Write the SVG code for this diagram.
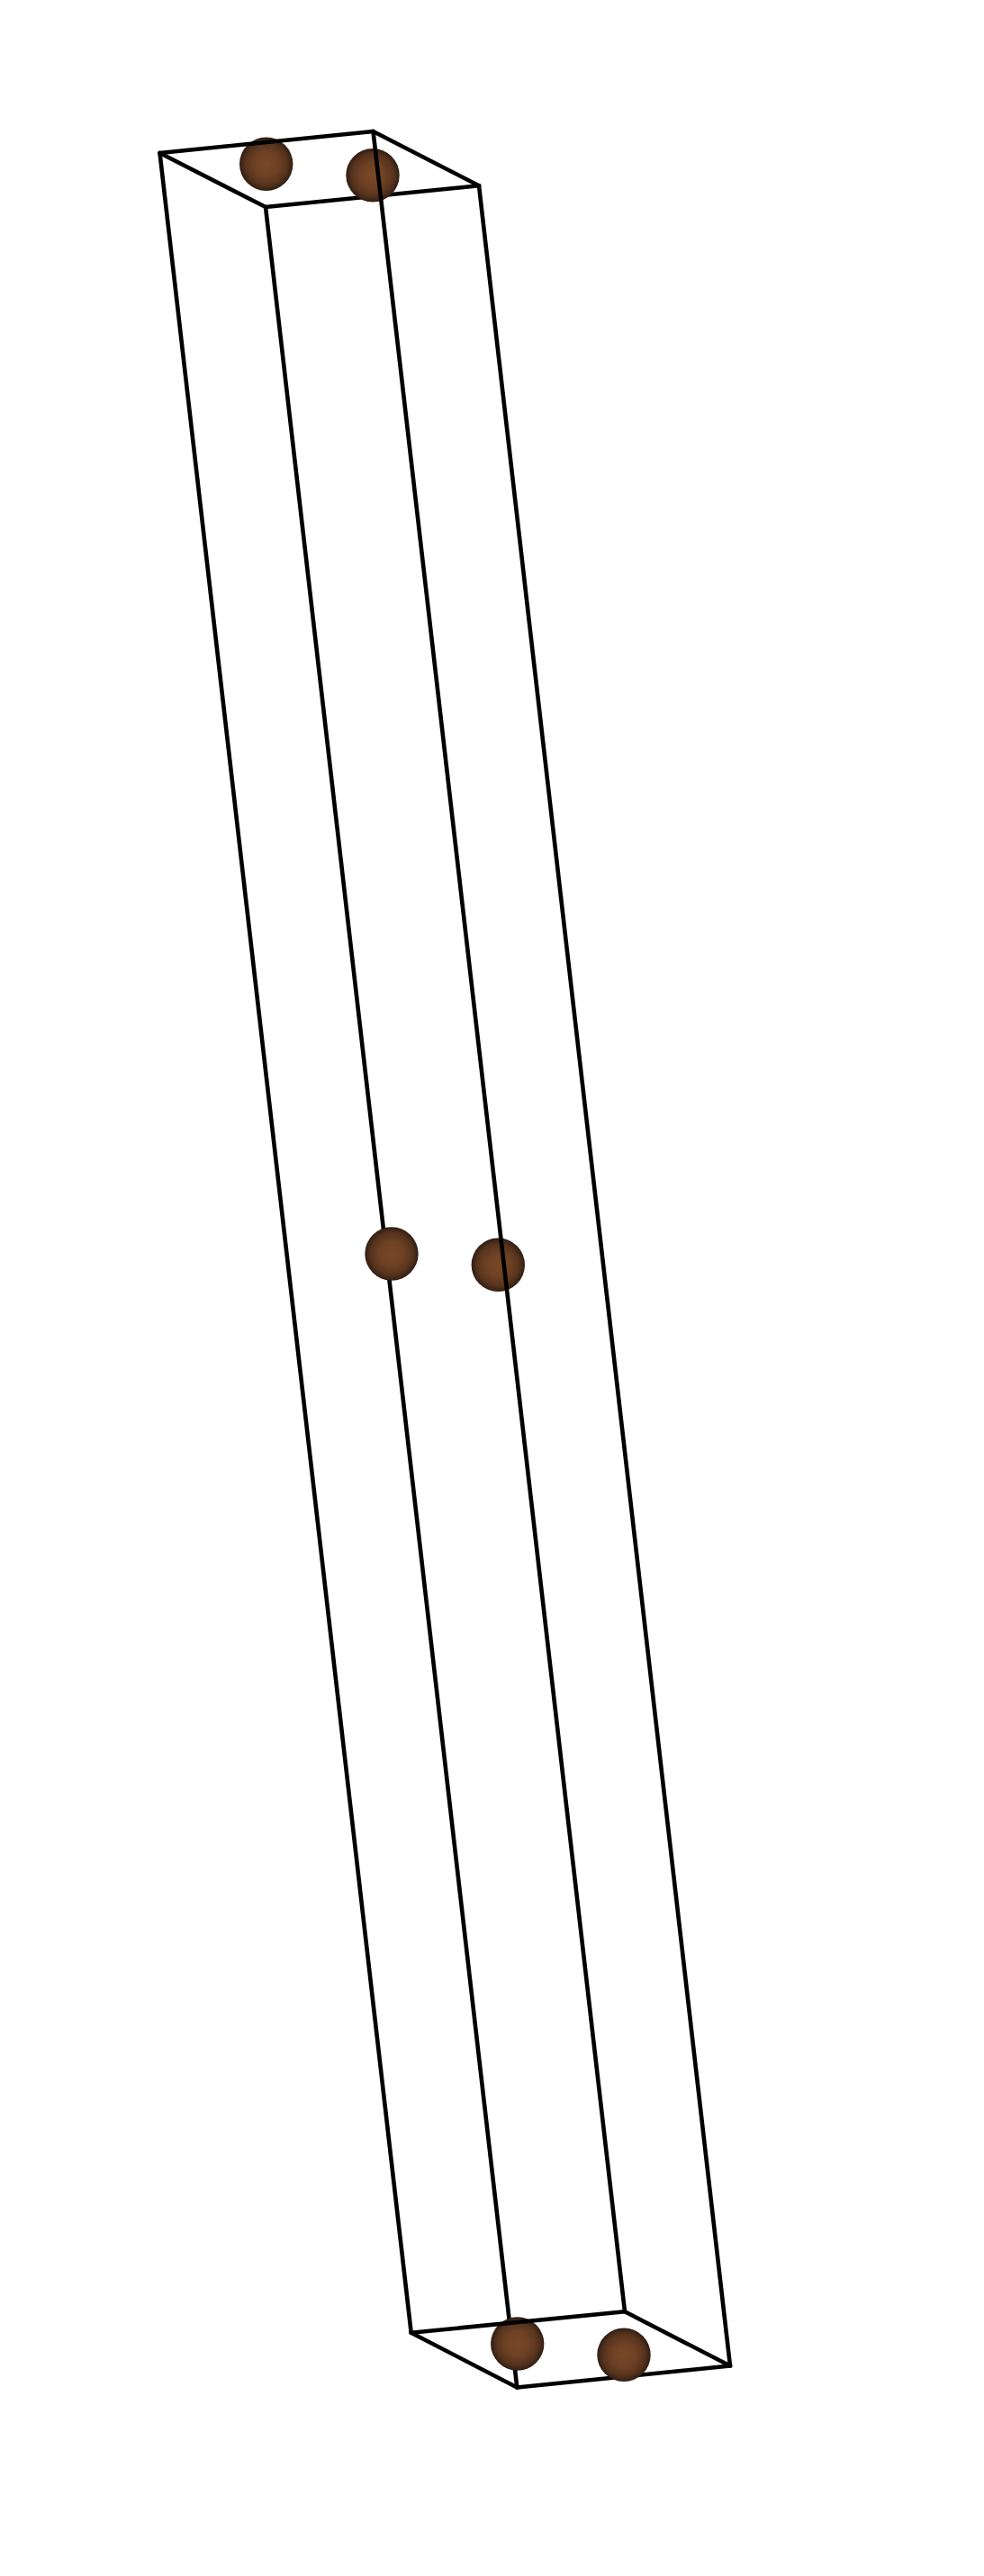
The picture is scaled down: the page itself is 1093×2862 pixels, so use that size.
<svg xmlns="http://www.w3.org/2000/svg" width="1093" height="2862" viewBox="0 0 1093 2862">
<defs>
<radialGradient id="ball" cx="0.5" cy="0.5" r="0.5">
<stop offset="0" stop-color="#7a4829"/>
<stop offset="0.45" stop-color="#6e4124"/>
<stop offset="0.78" stop-color="#56331d"/>
<stop offset="0.94" stop-color="#3c2416"/>
<stop offset="1" stop-color="#2a1a10"/>
</radialGradient>
</defs>
<style>
line{stroke:#000;stroke-width:4.6;stroke-linecap:round}
circle{fill:url(#ball)}
</style>
<rect width="1093" height="2862" fill="#fff"/>
<g id="edges-back">
<line x1="295" y1="230" x2="574.3" y2="2652.5"/>
<line x1="295" y1="230" x2="532" y2="206.3"/>
<line x1="574.3" y1="2652.5" x2="811" y2="2628.5"/>
</g>
<g id="atom-1"><circle cx="295.7" cy="182.3" r="29.7"/></g>
<g id="atom-2"><circle cx="414" cy="194.7" r="29.7"/></g>
<g id="atom-3"><circle cx="435" cy="1393" r="29.7"/></g>
<g id="atom-4"><circle cx="553.3" cy="1405.3" r="29.7"/></g>
<g id="atom-5"><circle cx="574.7" cy="2604" r="29.7"/></g>
<g id="atom-6"><circle cx="693" cy="2616.3" r="29.7"/></g>
<g id="edges-front">
<line x1="177.5" y1="170" x2="414.5" y2="146"/>
<line x1="177.5" y1="170" x2="295" y2="230"/>
<line x1="414.5" y1="146" x2="532" y2="206.3"/>
<line x1="177.5" y1="170" x2="456.7" y2="2591.7"/>
<line x1="414.5" y1="146" x2="694" y2="2568.3"/>
<line x1="532" y1="206.3" x2="811" y2="2628.5"/>
<line x1="456.7" y1="2591.7" x2="694" y2="2568.3"/>
<line x1="456.7" y1="2591.7" x2="574.3" y2="2652.5"/>
<line x1="694" y1="2568.3" x2="811" y2="2628.5"/>
</g>
</svg>
